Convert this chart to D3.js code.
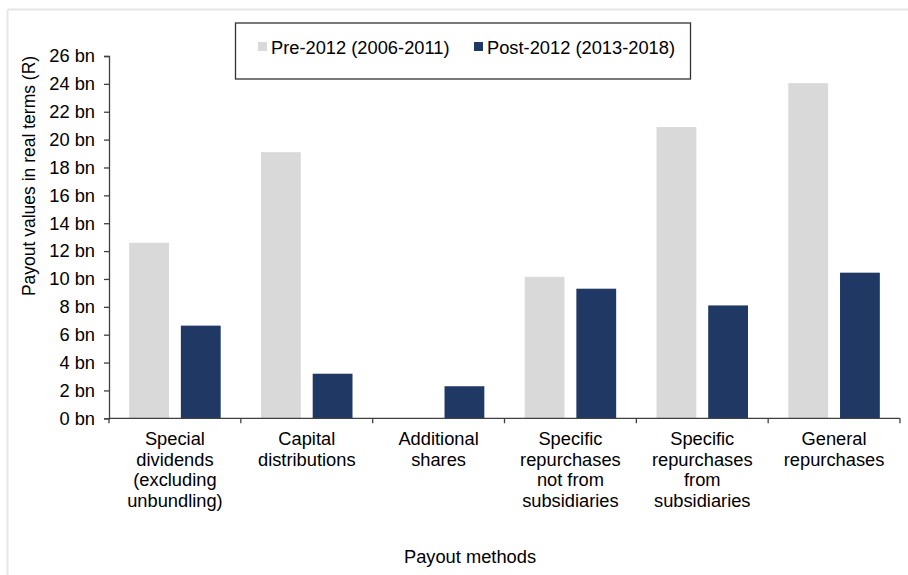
<!DOCTYPE html>
<html>
<head>
<meta charset="utf-8">
<script src="https://cdn.jsdelivr.net/npm/d3@7"></script>
<style>
  html, body { margin: 0; padding: 0; background: #fff; }
  svg { display: block; font-family: "Liberation Sans", Arial, sans-serif; }
</style>
</head>
<body>
<svg id="chart" width="908" height="575"></svg>
<script>
const categories = [
  ["Special", "dividends", "(excluding", "unbundling)"],
  ["Capital", "distributions"],
  ["Additional", "shares"],
  ["Specific", "repurchases", "not from", "subsidiaries"],
  ["Specific", "repurchases", "from", "subsidiaries"],
  ["General", "repurchases"]
];
const seriesNames = ["Pre-2012 (2006-2011)", "Post-2012 (2013-2018)"];
const preValues = [12.6, 19.1, 0, 10.15, 20.9, 24.05];
const postValues = [6.65, 3.2, 2.3, 9.3, 8.1, 10.45];
const yTicks = [0, 2, 4, 6, 8, 10, 12, 14, 16, 18, 20, 22, 24, 26];
const colors = ["#d9d9d9", "#1f3864"];

const svg = d3.select("#chart");
const fs = 18.3;

// faint frame
svg.append("line").attr("x1", 7.5).attr("x2", 908).attr("y1", 9.5).attr("y2", 9.5)
  .attr("stroke", "#e6e6e6").attr("stroke-width", 2);
svg.append("line").attr("x1", 7.5).attr("x2", 7.5).attr("y1", 9.5).attr("y2", 575)
  .attr("stroke", "#e6e6e6").attr("stroke-width", 2);

const x0 = 109, x1 = 900, yTop = 56, yBot = 418.3;
const catIdx = categories.map((d, i) => i);
const x = d3.scaleBand().domain(catIdx).range([x0, x1]).paddingInner(0).paddingOuter(0);
const xs = d3.scaleBand().domain([0, 1]).range([0, x.bandwidth()]).paddingInner(0.23).paddingOuter(0.39);
const y = d3.scaleLinear().domain([0, 26]).range([yBot, yTop]);

// bars
const data = [];
catIdx.forEach(i => {
  data.push({c: i, s: 0, v: preValues[i]});
  data.push({c: i, s: 1, v: postValues[i]});
});
svg.append("g").selectAll("rect").data(data.filter(d => d.v > 0)).join("rect")
  .attr("x", d => x(d.c) + xs(d.s))
  .attr("width", xs.bandwidth())
  .attr("y", d => y(d.v))
  .attr("height", d => y(0) - y(d.v))
  .attr("fill", d => colors[d.s]);

// y axis
const yAxis = d3.axisLeft(y).tickValues(yTicks).tickFormat(d => d + " bn").tickSize(5).tickPadding(9);
const gy = svg.append("g").attr("transform", `translate(${x0},0)`).call(yAxis);
gy.select(".domain").attr("stroke", "#404040").attr("stroke-width", 1.3);
gy.selectAll(".tick line").attr("stroke", "#404040").attr("stroke-width", 1.3);
gy.selectAll(".tick text").attr("font-size", fs).attr("fill", "#000").attr("font-family", "Liberation Sans, Arial, sans-serif");

// x axis line and boundary ticks
svg.append("line").attr("x1", x0).attr("x2", x1).attr("y1", yBot).attr("y2", yBot)
  .attr("stroke", "#404040").attr("stroke-width", 1.3);
const bounds = catIdx.map(i => x(i)).concat([x1]);
svg.append("g").selectAll("line").data(bounds).join("line")
  .attr("x1", d => d).attr("x2", d => d).attr("y1", yBot).attr("y2", yBot + 5)
  .attr("stroke", "#404040").attr("stroke-width", 1.3);

// category labels
const lab = svg.append("g").selectAll("text").data(catIdx).join("text")
  .attr("text-anchor", "middle").attr("font-size", fs).attr("fill", "#000")
  .attr("x", i => x(i) + x.bandwidth() / 2).attr("y", 445);
lab.selectAll("tspan").data(i => categories[i].map(t => ({t, x: x(i) + x.bandwidth() / 2}))).join("tspan")
  .attr("x", d => d.x).attr("dy", (d, k) => k === 0 ? 0 : 20.7).text(d => d.t);

// axis titles
svg.append("text").attr("transform", "translate(29,176) rotate(-90)")
  .attr("text-anchor", "middle").attr("dominant-baseline", "central")
  .attr("font-size", 17.5).attr("fill", "#000").text("Payout values in real terms (R)");
svg.append("text").attr("x", 470).attr("y", 563).attr("text-anchor", "middle")
  .attr("font-size", fs).attr("fill", "#000").text("Payout methods");

// legend
const lg = svg.append("g");
lg.append("rect").attr("x", 235.5).attr("y", 23).attr("width", 455).attr("height", 56)
  .attr("fill", "#fff").attr("stroke", "#333").attr("stroke-width", 1.3);
const legX = [258, 474];
seriesNames.forEach((n, i) => {
  lg.append("rect").attr("x", legX[i]).attr("y", 42).attr("width", 9).attr("height", 9).attr("fill", colors[i]);
  lg.append("text").attr("x", legX[i] + 13).attr("y", 53.5).attr("font-size", fs).attr("fill", "#000").text(n);
});
</script>
</body>
</html>
